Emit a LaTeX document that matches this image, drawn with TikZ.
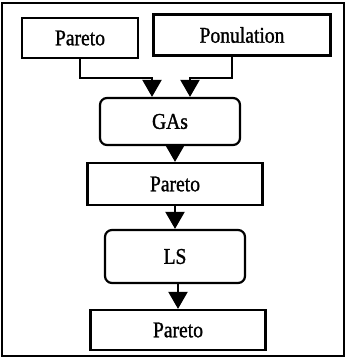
\documentclass[tikz,border=0pt]{standalone}
\usepackage{fontspec}
\setmainfont{Liberation Serif}
\newfontfamily\scanfont[FakeStretch=0.87,FakeBold=1.2]{Liberation Serif}
\usetikzlibrary{arrows.meta}
\begin{document}
\begin{tikzpicture}[x=1pt,y=-1pt,
  box/.style={draw,line width=2.2pt,minimum height=40pt,inner sep=0pt,font=\scanfont\fontsize{22.5}{24}\selectfont},
  rbox/.style={box,rounded corners=7pt},
  conn/.style={line width=2pt,-{Triangle[length=17pt,width=19pt]}}]
\useasboundingbox (0,0) rectangle (346,361);
\draw[line width=1.6pt] (2,3) rectangle (344,356);
\node[box,minimum width=116pt,minimum height=40pt] (p1) at (80,38) {Pareto};
\node[box,minimum width=177pt,minimum height=41pt] (pop) at (242,35) {Ponulation};
\node[rbox,minimum width=140pt,minimum height=47pt] (gas) at (170,121.5) {GAs};
\node[box,minimum width=175pt,minimum height=42pt] (p2) at (175,184) {Pareto};
\node[rbox,minimum width=140pt,minimum height=53pt] (ls) at (175,256.5) {LS};
\node[box,minimum width=175pt,minimum height=40pt] (p3) at (178,330) {Pareto};
\coordinate (a1) at (80,78);
\coordinate (a2) at (152,78);
\coordinate (b1) at (232,78);
\coordinate (b2) at (190,78);
\draw[conn] (p1.south) -- (a1) -- (a2) -- (a2 |- gas.north);
\draw[conn] (pop.south -| b1) -- (b1) -- (b2) -- (b2 |- gas.north);
\draw[conn] (gas.south -| 175,0) -- (175,0 |- p2.north);
\draw[conn] (p2.south -| 175,0) -- (175,0 |- ls.north);
\draw[conn] (ls.south -| 178,0) -- (178,0 |- p3.north);
\end{tikzpicture}
\end{document}
